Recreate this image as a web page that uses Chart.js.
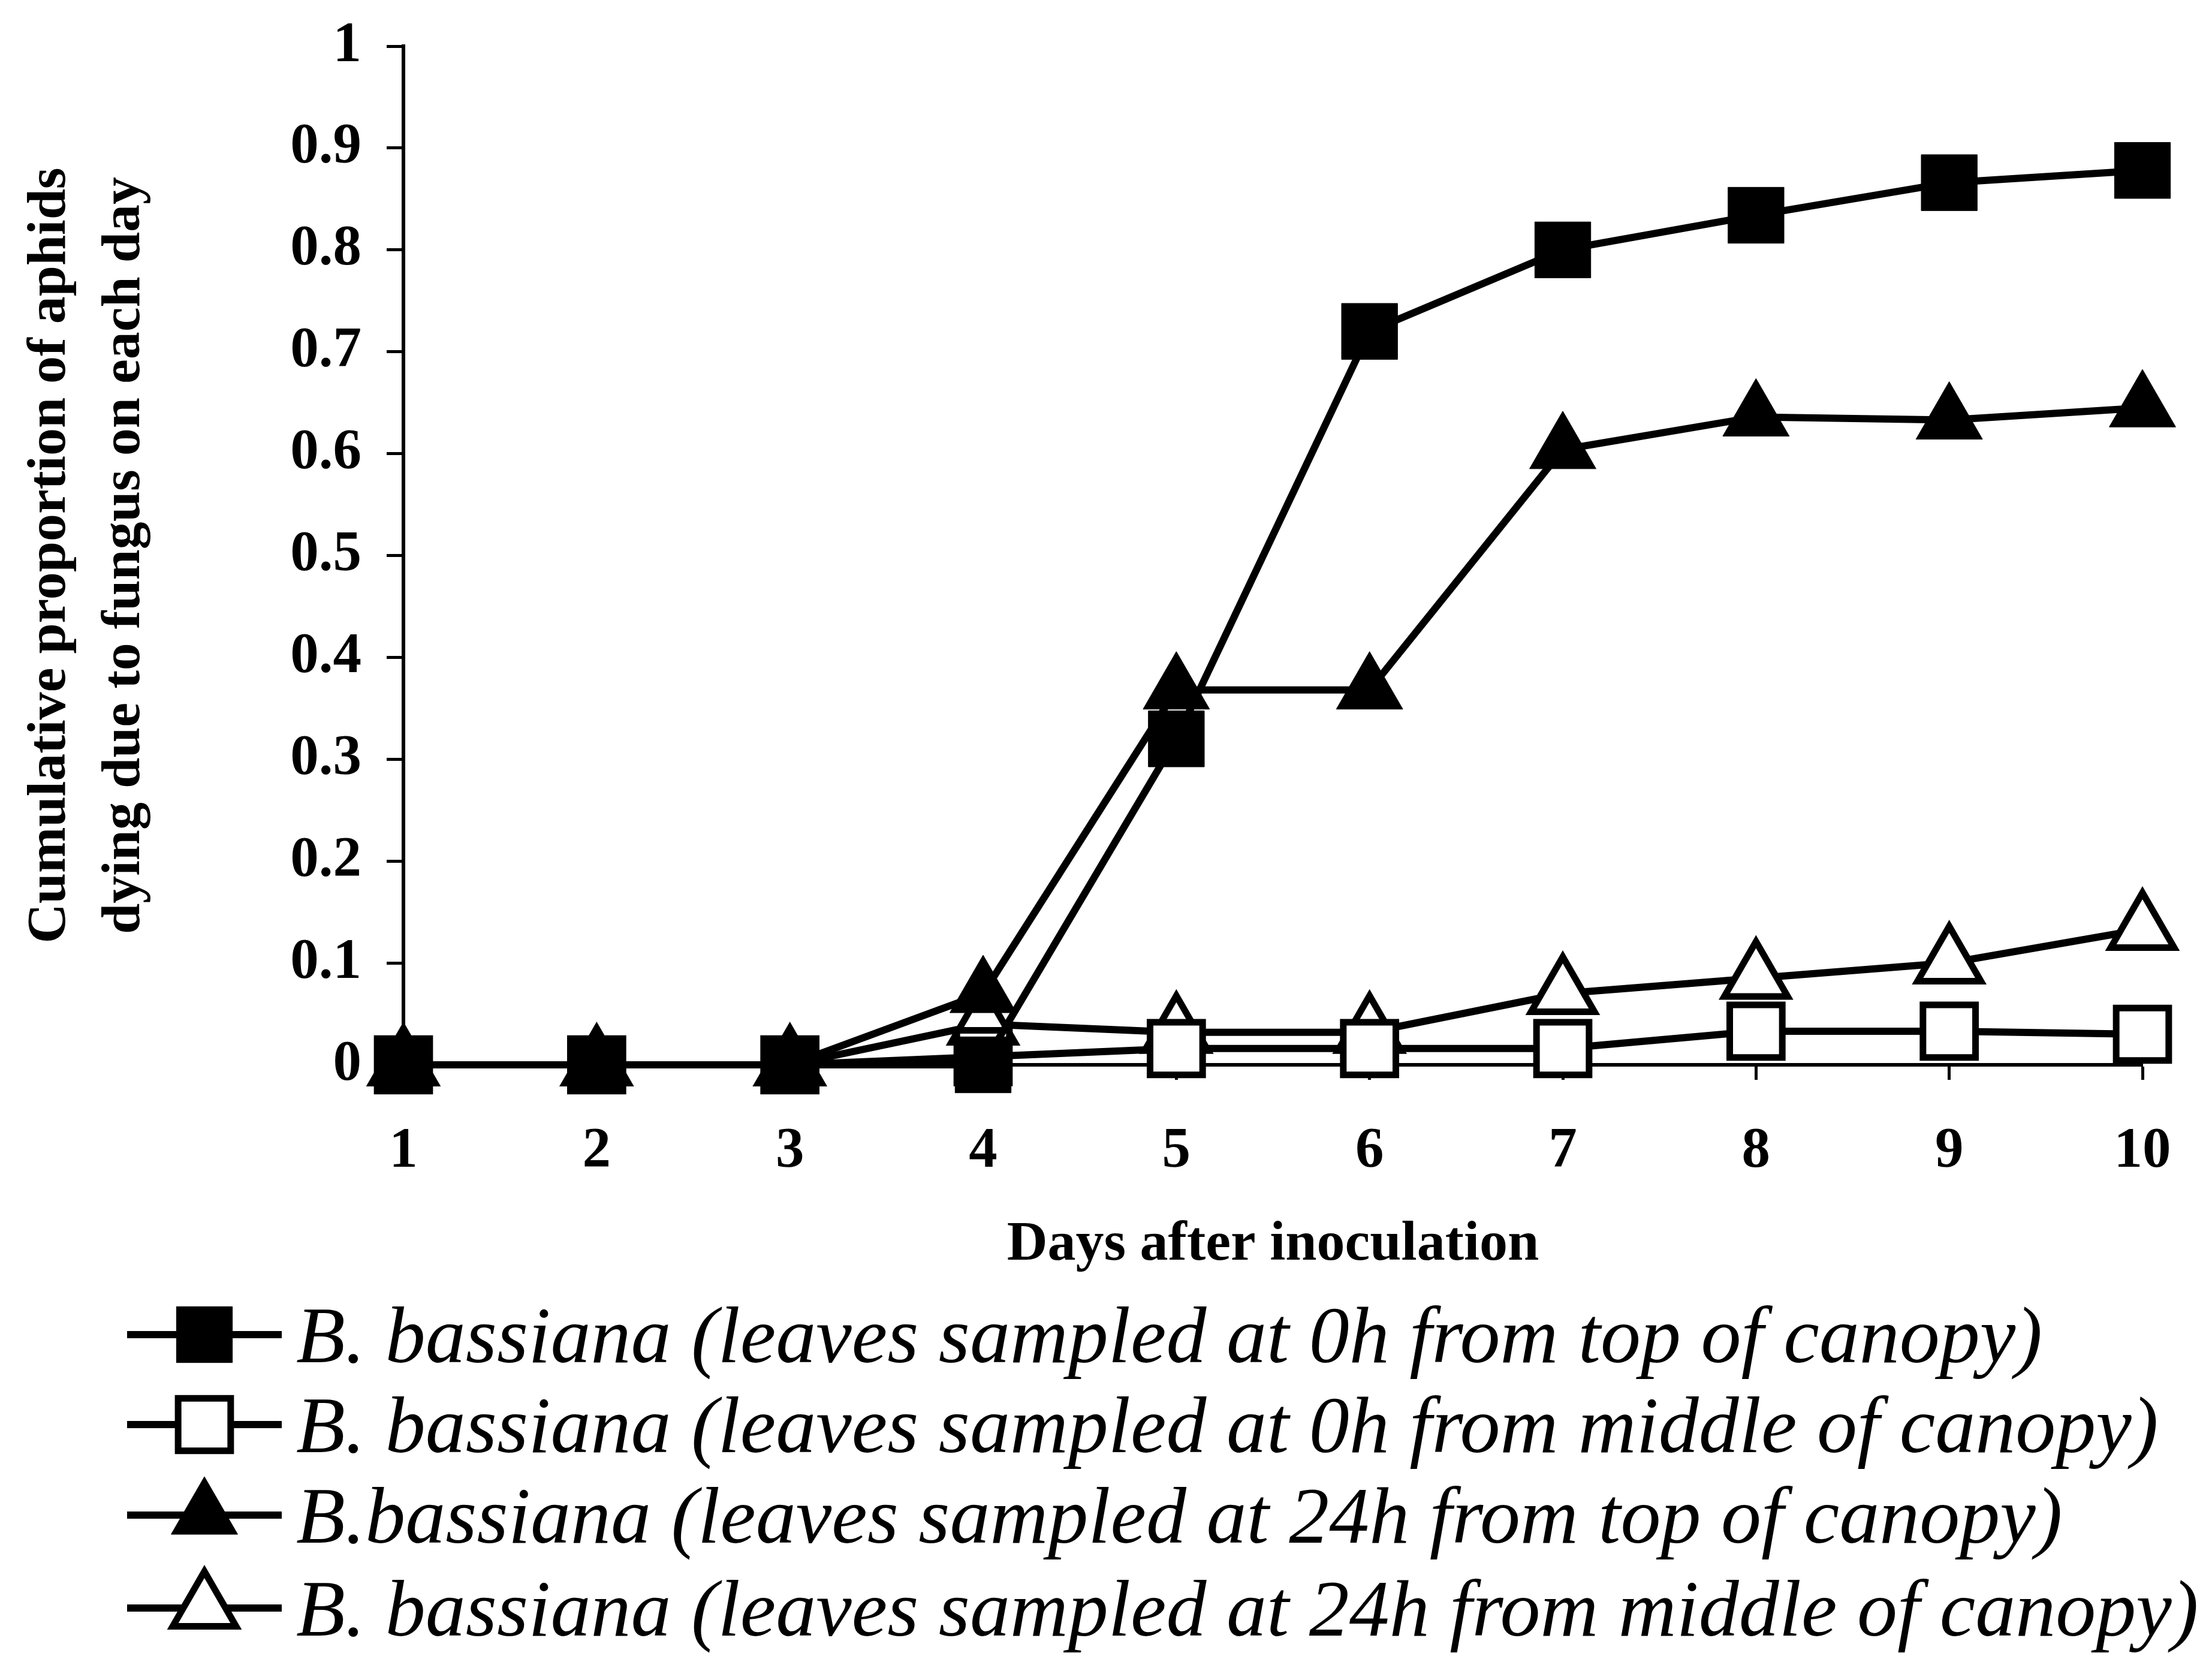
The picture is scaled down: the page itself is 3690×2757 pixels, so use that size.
<!DOCTYPE html>
<html>
<head>
<meta charset="utf-8">
<title>Cumulative proportion of aphids dying due to fungus</title>
<script src="https://cdn.jsdelivr.net/npm/chart.js@4.4.1/dist/chart.umd.min.js"></script>
<style>
  html, body { margin: 0; padding: 0; background: #fff; }
  #chart1 { display: block; }
</style>
</head>
<body>
<canvas id="chart1" width="3690" height="2757"></canvas>
<script>
// categories
const days = ["1", "2", "3", "4", "5", "6", "7", "8", "9", "10"];

// series values
const top0h    = [0, 0, 0, 0,     0.32,  0.72,  0.80,  0.834, 0.866, 0.878];
const middle0h = [0, 0, 0, 0.008, 0.016, 0.016, 0.016, 0.033, 0.033, 0.03];
const top24h   = [0, 0, 0, 0.07,  0.368, 0.368, 0.604, 0.636, 0.633, 0.645];
const middle24h= [0, 0, 0, 0.04,  0.032, 0.032, 0.07,  0.085, 0.1,   0.133];

// tick labels
const yTickLabels = ["0", "0.1", "0.2", "0.3", "0.4", "0.5", "0.6", "0.7", "0.8", "0.9", "1"];

const seriesNames = [
    "B. bassiana (leaves sampled at 0h from top of canopy)",
    "B. bassiana (leaves sampled at 0h from middle of canopy)",
    "B.bassiana (leaves sampled at 24h from top of canopy)",
    "B. bassiana (leaves sampled at 24h from middle of canopy)"
];

const xTitle = "Days after inoculation";
const yTitle = ["Cumulative proportion of aphids", "dying due to fungus on each day"];

const serif = "'Liberation Serif', 'Times New Roman', serif";
const ink = "#000";

// marker look per series
const markers = [
    { style: "rect",     filled: true,  radius: 66, border: 1 },
    { style: "rect",     filled: false, radius: 62, border: 11 },
    { style: "triangle", filled: true,  radius: 64, border: 1 },
    { style: "triangle", filled: false, radius: 61, border: 11 }
];

function makeSet(i, values) {
    const m = markers[i];
    return {
        label: seriesNames[i],
        data: values,
        borderColor: ink,
        borderWidth: 12,
        backgroundColor: m.filled ? ink : "#fff",
        pointStyle: m.style,
        pointRadius: m.radius,
        pointHoverRadius: m.radius,
        pointBorderWidth: m.border,
        pointBorderColor: ink,
        pointBackgroundColor: m.filled ? ink : "#fff",
        tension: 0,
        clip: false
    };
}

// same shapes as Chart.js draws, for the legend
function drawMarker(ctx, m, x, y) {
    ctx.beginPath();
    if (m.style === "rect") {
        const s = Math.SQRT1_2 * m.radius;
        ctx.rect(x - s, y - s, 2 * s, 2 * s);
    } else {
        let a = 0;
        for (let k = 0; k < 3; k++) {
            const px = x + Math.sin(a) * m.radius;
            const py = y - Math.cos(a) * m.radius;
            if (k === 0) ctx.moveTo(px, py); else ctx.lineTo(px, py);
            a += Math.PI * 2 / 3;
        }
        ctx.closePath();
    }
    ctx.fillStyle = m.filled ? ink : "#fff";
    ctx.fill();
    ctx.lineWidth = m.border;
    ctx.strokeStyle = ink;
    ctx.stroke();
}

const legendRows = [2226, 2376, 2527, 2682];

const bottomLegend = {
    id: "bottomLegend",
    afterDraw(chart) {
        const ctx = chart.ctx;
        ctx.save();
        legendRows.forEach(function (y, i) {
            ctx.beginPath();
            ctx.moveTo(212, y);
            ctx.lineTo(470, y);
            ctx.lineWidth = 12;
            ctx.strokeStyle = ink;
            ctx.stroke();
            drawMarker(ctx, markers[i], 341, y);
            ctx.fillStyle = ink;
            ctx.font = "italic 134px " + serif;
            ctx.textAlign = "left";
            ctx.textBaseline = "alphabetic";
            ctx.fillText(seriesNames[i], 494, y + 46, 3180);
        });
        ctx.restore();
    }
};

const chart = new Chart(document.getElementById("chart1"), {
    type: "line",
    data: {
        labels: days,
        datasets: [
            makeSet(0, top0h),
            makeSet(1, middle0h),
            makeSet(2, top24h),
            makeSet(3, middle24h)
        ]
    },
    options: {
        responsive: false,
        animation: false,
        events: [],
        layout: { padding: { left: 0, top: 77, right: 116, bottom: 561 } },
        plugins: {
            legend: { display: false },
            tooltip: { enabled: false }
        },
        scales: {
            x: {
                type: "category",
                offset: false,
                afterFit: function (scale) { scale.height = 420; },
                border: { display: true, color: ink, width: 6 },
                grid: {
                    drawOnChartArea: false,
                    drawTicks: true,
                    tickLength: 25,
                    tickWidth: 5,
                    tickColor: ink
                },
                ticks: {
                    color: ink,
                    padding: 63,
                    maxRotation: 0,
                    autoSkip: false,
                    font: { family: serif, size: 95, weight: "bold", lineHeight: 1.2 }
                },
                title: {
                    display: true,
                    text: xTitle,
                    color: ink,
                    padding: { top: 0, bottom: 63 },
                    font: { family: serif, size: 94, weight: "bold", lineHeight: 1.2 }
                }
            },
            y: {
                min: 0,
                max: 1,
                afterFit: function (scale) { scale.width = 673; },
                border: { display: true, color: ink, width: 6 },
                grid: {
                    drawOnChartArea: false,
                    drawTicks: true,
                    tickLength: 28,
                    tickWidth: 5,
                    tickColor: ink
                },
                ticks: {
                    stepSize: 0.1,
                    color: ink,
                    padding: 42,
                    // small lineHeight keeps the top label from pushing the chart area down
                    font: { family: serif, size: 95, weight: "bold", lineHeight: 0.4 },
                    callback: function (value, index) { return yTickLabels[index]; }
                },
                title: {
                    display: true,
                    text: yTitle,
                    color: ink,
                    padding: { top: 22, bottom: 0 },
                    font: { family: serif, size: 92, weight: "bold", lineHeight: 1.35 }
                }
            }
        }
    },
    plugins: [bottomLegend]
});
</script>
</body>
</html>
